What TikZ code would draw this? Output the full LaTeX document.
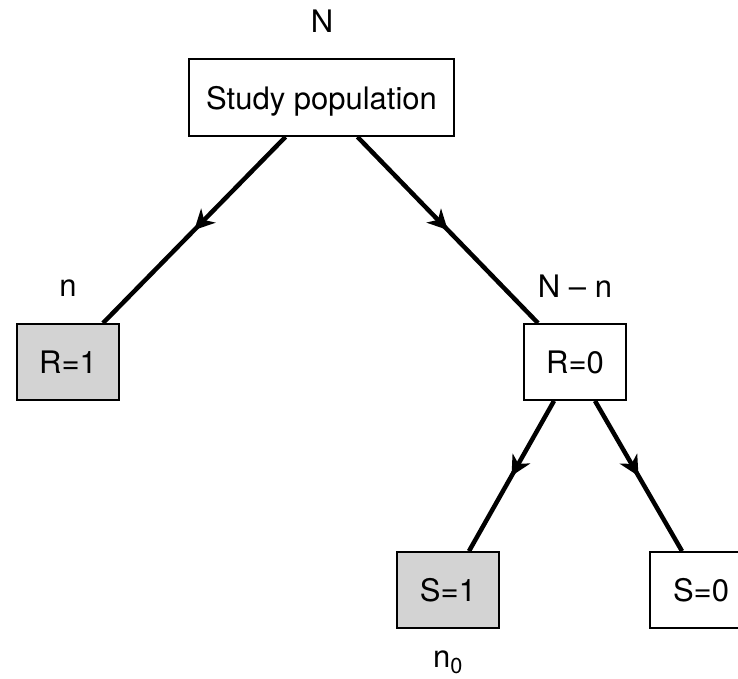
\documentclass[tikz,border=0pt]{standalone}
\usepackage{fontspec}
\setmainfont{TeX Gyre Heros}
\usepackage{xcolor}
\usepackage{tikz}
\usetikzlibrary{arrows.meta}
\usetikzlibrary{decorations.markings}
\usetikzlibrary{positioning}
\definecolor{kastengrau}{RGB}{211,211,211}
\tikzset{
  Kasten/.style={draw,line width=1.8pt,inner sep=0pt,
    minimum width=102pt,minimum height=76pt,text depth=0pt}, % für Kästen
  GKasten/.style={Kasten,fill=kastengrau},% grau gefüllt
  Zweig/.style={line width=4.5pt,postaction={decorate},
    decoration={markings,mark=at position 0.5 with
      {\arrow{Stealth[length=20pt,width=20pt,inset=6pt]}}}} % Zweige mit Pfeil
}
\begin{document}
\begin{tikzpicture}[x=1pt,y=1pt,
font=\fontsize{31pt}{37pt}\selectfont
]
\useasboundingbox (0,0) rectangle (738,678);

%Kästen
\node[Kasten,minimum width=265pt,minimum height=77pt] (Pop) at (321.5,580.5) {Study population};
\node[GKasten] (R1) at (68,316) {R=1};
\node[Kasten] (R0) at (575,316) {R=0};
\node[GKasten] (S1) at (448,88) {S=1};
\node[Kasten] (S0) at (701,88) {S=0};

%Anzahlen
\node[anchor=base] (AnzN) at (322,645) {N};
\node[anchor=base] (Anzn) at (68,381) {n};
\node[anchor=base] (AnzNn) at (575,380) {N -- n};
\node[anchor=base] (Anzn0) at (448,11) {n\textsubscript{0}};

%Zweige
\draw[Zweig] ([xshift=-36pt]Pop.south) -- ([xshift=35pt]R1.north);
\draw[Zweig] ([xshift=36pt]Pop.south) -- ([xshift=-37pt]R0.north);
\draw[Zweig] ([xshift=-21pt]R0.south) -- ([xshift=21pt]S1.north);
\draw[Zweig] ([xshift=20pt]R0.south) -- ([xshift=-19pt]S0.north);

\end{tikzpicture}
\end{document}
